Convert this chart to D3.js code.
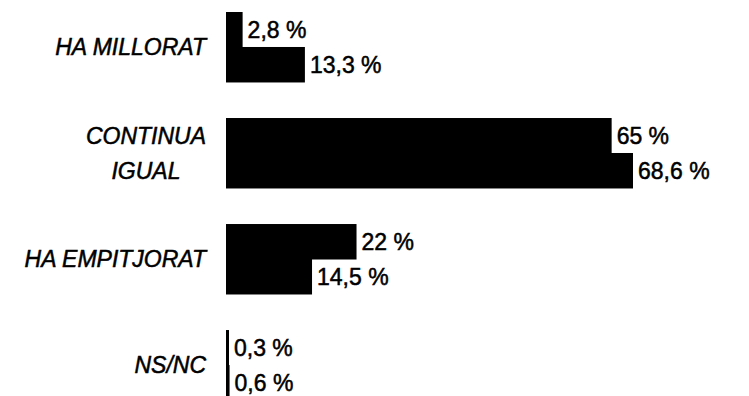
<!DOCTYPE html>
<html>
<head>
<meta charset="utf-8">
<script src="https://cdn.jsdelivr.net/npm/d3@7"></script>
<style>
  body { margin: 0; background: #fff; }
  svg { display: block; }
  text { font-family: "Liberation Sans", Arial, sans-serif; fill: #000; stroke: #000; stroke-width: 0.5px; }
</style>
</head>
<body>
<div id="wrapper"></div>
<script>
const categories = ["HA MILLORAT", "CONTINUA IGUAL", "HA EMPITJORAT", "NS/NC"];
const categoryLines = [["HA MILLORAT"], ["CONTINUA", "IGUAL"], ["HA EMPITJORAT"], ["NS/NC"]];
const series = ["first", "second"];
const firstValues = [2.8, 65, 22, 0.3];
const secondValues = [13.3, 68.6, 14.5, 0.6];

function drawChart() {
  const dimensions = {
    width: 749,
    height: 396,
    barLeft: 226,
    labelRight: 206,
  };

  const data = categories.map((c, i) => ({
    category: c,
    lines: categoryLines[i],
    values: [
      { key: series[0], value: firstValues[i] },
      { key: series[1], value: secondValues[i] },
    ],
  }));

  const svg = d3
    .select("#wrapper")
    .append("svg")
    .attr("width", dimensions.width)
    .attr("height", dimensions.height);

  const x = d3
    .scaleLinear()
    .domain([0, d3.max(secondValues)])
    .range([dimensions.barLeft, 633]);

  const y = d3
    .scaleBand()
    .domain(categories)
    .range([12, 400])
    .paddingInner(0.34)
    .paddingOuter(0);

  const ySub = d3.scaleBand().domain(series).range([0, y.bandwidth()]);

  const groups = svg
    .selectAll("g.group")
    .data(data)
    .enter()
    .append("g")
    .attr("class", "group")
    .attr("transform", (d) => `translate(0,${y(d.category)})`);

  groups
    .selectAll("rect")
    .data((d) => d.values)
    .enter()
    .append("rect")
    .attr("x", x(0))
    .attr("y", (d) => ySub(d.key))
    .attr("width", (d) => Math.max(x(d.value) - x(0), 3))
    .attr("height", ySub.bandwidth() + 0.5)
    .attr("fill", "#000");

  groups
    .selectAll("text.value")
    .data((d) => d.values)
    .enter()
    .append("text")
    .attr("class", "value")
    .attr("x", (d) => Math.max(x(d.value), x(0) + 3) + 5)
    .attr("y", (d) => ySub(d.key) + ySub.bandwidth() / 2)
    .attr("dy", "0.36em")
    .attr("font-size", 23)
    .text((d) => `${String(d.value).replace(".", ",")} %`);

  // category labels, multi-line ones centred on the longest line
  groups.each(function (d) {
    const g = d3.select(this);
    const lineHeight = 35;
    const mid = y.bandwidth() / 2;
    const texts = g
      .selectAll("text.cat")
      .data(d.lines)
      .enter()
      .append("text")
      .attr("class", "cat")
      .attr("font-size", 23)
      .attr("font-style", "italic")
      .attr("y", (_, i, { length }) => mid + (i - (length - 1) / 2) * lineHeight)
      .attr("dy", "0.36em")
      .text((t) => t);

    if (d.lines.length === 1) {
      texts.attr("x", dimensions.labelRight).attr("text-anchor", "end");
    } else {
      const widest = d3.max(texts.nodes(), (n) => n.getComputedTextLength());
      texts
        .attr("x", dimensions.labelRight - widest / 2)
        .attr("text-anchor", "middle");
    }
  });
}

drawChart();
</script>
</body>
</html>
